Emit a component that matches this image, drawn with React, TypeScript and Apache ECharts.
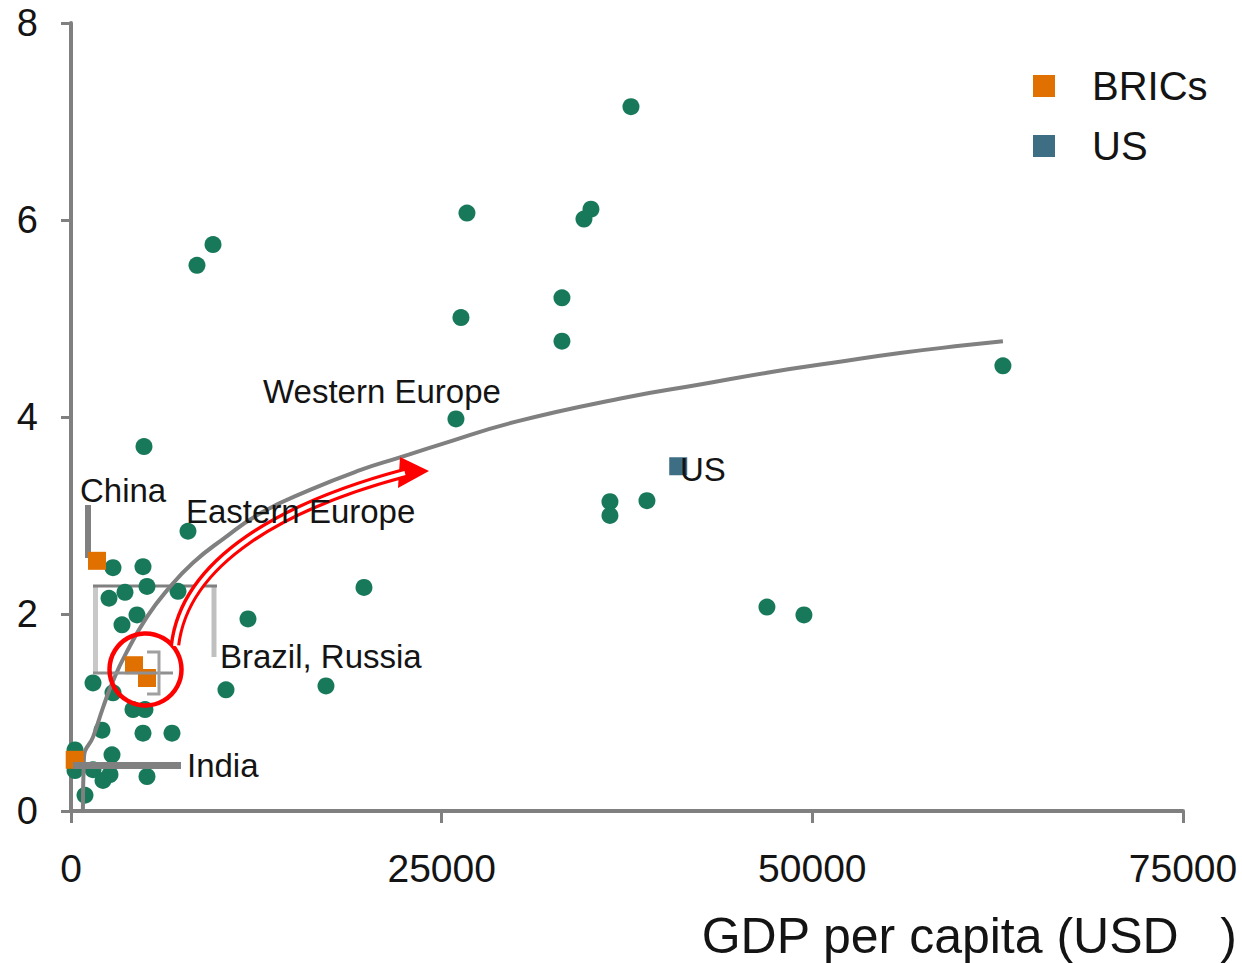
import React, { useEffect, useRef } from "react";
import * as echarts from "echarts";

// ---- data ----
const xTickStep = 25000;
const xMax = 75000;
const yTickStep = 2;
const yMax = 8;

const otherX = [
  37767, 26706, 34597, 35069, 9577, 8497, 33113, 26301, 33113, 62854, 25964, 4923,
  36350, 36350, 38845, 7890, 19760, 46938, 49433, 11937, 17197, 10453,
  2832, 4856, 5125, 3642, 2563, 7216, 4451, 3439, 1484, 2832, 4181, 4990,
  2091, 4856, 6811, 270, 2765, 270, 1484, 2630, 5125, 944, 2158,
];
const otherY = [
  7.15, 6.07, 6.01, 6.11, 5.75, 5.54, 5.21, 5.01, 4.77, 4.52, 3.98, 3.7,
  3.14, 3.0, 3.15, 2.84, 2.27, 2.07, 1.99, 1.95, 1.27, 1.23,
  2.47, 2.48, 2.28, 2.22, 2.16, 2.23, 1.99, 1.89, 1.3, 1.2, 1.03, 1.03,
  0.82, 0.79, 0.79, 0.62, 0.57, 0.41, 0.42, 0.37, 0.35, 0.16, 0.31,
];

const bricsNames = ["China", "Brazil", "Russia", "India"];
const bricsX = [1753, 4249, 5125, 249];
const bricsY = [2.54, 1.48, 1.35, 0.52];

const usX = [40955];
const usY = [3.5];

const trendX = [
  800, 877, 1484, 2158, 2832, 3709, 5125, 6474, 8228, 10251, 12746, 16118, 19490,
  22188, 24885, 29943, 37497, 42420, 46938, 51389, 55907, 60425, 62855,
];
const trendY = [
  -0.05, 0.55, 0.75, 1.05, 1.32, 1.6, 1.97, 2.24, 2.52, 2.76, 3.02, 3.26, 3.46,
  3.59, 3.72, 3.95, 4.2, 4.33, 4.45, 4.55, 4.65, 4.73, 4.77,
];

const seriesNames = ["BRICs", "US"];
const xAxisTitle = "GDP per capita (USD   )";

const FONT = "'Liberation Sans', Arial, Helvetica, sans-serif";
const TEXT = "#141414";
const GREY = "#808080";

const zip = (xs: number[], ys: number[]) => xs.map((x, i) => [x, ys[i]]);

export default function App() {
  const ref = useRef<HTMLDivElement | null>(null);

  useEffect(() => {
    if (!ref.current) return;
    const chart = echarts.init(ref.current, undefined, { renderer: "svg" });

    const label = (text: string, x: number, y: number) => ({
      type: "text",
      x,
      y,
      z: 50,
      style: {
        text,
        fill: TEXT,
        fontSize: 33,
        fontFamily: FONT,
        verticalAlign: "middle",
        align: "left",
      },
    });
    const seg = (x1: number, y1: number, x2: number, y2: number, stroke: string, lineWidth: number, z = 1) => ({
      type: "line",
      z,
      shape: { x1, y1, x2, y2 },
      style: { stroke, lineWidth },
    });

    chart.setOption({
      animation: false,
      backgroundColor: "#ffffff",
      grid: { left: 71, right: 59, top: 23, bottom: 152 },
      legend: {
        data: seriesNames,
        orient: "vertical",
        left: 1028,
        top: 61,
        itemWidth: 22,
        itemHeight: 22,
        itemGap: 20,
        icon: "rect",
        textStyle: { fontSize: 40, color: TEXT, fontFamily: FONT, padding: [0, 0, 0, 32] },
      },
      xAxis: {
        type: "value",
        min: 0,
        max: xMax,
        interval: xTickStep,
        splitLine: { show: false },
        axisLine: { show: true, onZero: false, lineStyle: { color: GREY, width: 4 } },
        axisTick: { show: true, length: 12, lineStyle: { color: GREY, width: 3 } },
        axisLabel: {
          fontSize: 39,
          color: TEXT,
          fontFamily: FONT,
          margin: 38,
          formatter: (v: number) => String(v),
        },
      },
      yAxis: {
        type: "value",
        min: 0,
        max: yMax,
        interval: yTickStep,
        splitLine: { show: false },
        axisLine: { show: true, onZero: false, lineStyle: { color: GREY, width: 4 } },
        axisTick: { show: true, length: 10, lineStyle: { color: GREY, width: 3 } },
        axisLabel: { fontSize: 38, color: TEXT, fontFamily: FONT, margin: 33 },
      },
      series: [
        {
          name: "Others",
          type: "scatter",
          symbol: "circle",
          symbolSize: 17,
          itemStyle: { color: "#17795a", opacity: 1 },
          data: zip(otherX, otherY),
          z: 2,
        },
        {
          name: "Trend",
          type: "line",
          smooth: true,
          showSymbol: false,
          symbol: "none",
          lineStyle: { color: GREY, width: 4 },
          data: zip(trendX, trendY),
          z: 3,
        },
        {
          name: "BRICs",
          type: "scatter",
          symbol: "rect",
          symbolSize: 18,
          itemStyle: { color: "#e07000", opacity: 1 },
          data: bricsX.map((x, i) => ({ name: bricsNames[i], value: [x, bricsY[i]] })),
          z: 4,
        },
        {
          name: "US",
          type: "scatter",
          symbol: "rect",
          symbolSize: 18,
          itemStyle: { color: "#3e6e84", opacity: 1 },
          data: zip(usX, usY),
          z: 4,
        },
      ],
      graphic: {
        elements: [
          // leader lines
          seg(88, 505, 88, 558, GREY, 6, 1),
          seg(73, 765.5, 181, 765.5, GREY, 7, 5),
          seg(95.5, 586, 95.5, 673, "#c8c8c8", 5, 1),
          seg(214, 586, 214, 657, "#c0c0c0", 5, 1),
          seg(93, 586, 217, 586, GREY, 3, 1),
          seg(93, 673, 173, 673, "#909090", 3, 5),
          {
            type: "polyline",
            z: 5,
            shape: { points: [[147, 652], [159, 652], [159, 694], [147, 694]] },
            style: { stroke: "#a0a0a0", lineWidth: 3, fill: null },
          },
          // red circle
          {
            type: "circle",
            z: 20,
            shape: { cx: 145.5, cy: 669.5, r: 36 },
            style: { stroke: "#ff0000", lineWidth: 4.5, fill: null },
          },
          // red hollow arrow
          {
            type: "bezierCurve",
            z: 20,
            shape: { x1: 175, y1: 645, cpx1: 185, cpy1: 560, cpx2: 285, cpy2: 505, x2: 405, y2: 473 },
            style: { stroke: "#ff0000", lineWidth: 10.5, fill: null },
          },
          {
            type: "polygon",
            z: 21,
            shape: { points: [[400, 457], [429, 471], [398, 488]] },
            style: { fill: "#ff0000" },
          },
          {
            type: "bezierCurve",
            z: 22,
            shape: { x1: 175, y1: 646, cpx1: 185, cpy1: 560, cpx2: 285, cpy2: 505, x2: 405, y2: 473 },
            style: { stroke: "#ffffff", lineWidth: 4, fill: null },
          },
          // labels
          label("Western Europe", 263, 391),
          label("Eastern Europe", 186, 511),
          label("China", 80, 490),
          label("Brazil, Russia", 220, 656),
          label("India", 187, 765),
          label("US", 680, 469),
          // axis title
          {
            type: "text",
            x: 1237,
            y: 936,
            z: 50,
            style: {
              text: xAxisTitle,
              fill: TEXT,
              fontSize: 50,
              fontFamily: FONT,
              align: "right",
              verticalAlign: "middle",
            },
          },
        ],
      },
    });

    return () => chart.dispose();
  }, []);

  return (
    <div
      ref={ref}
      style={{ position: "fixed", left: 0, top: 0, width: 1242, height: 963, background: "#fff" }}
    />
  );
}
